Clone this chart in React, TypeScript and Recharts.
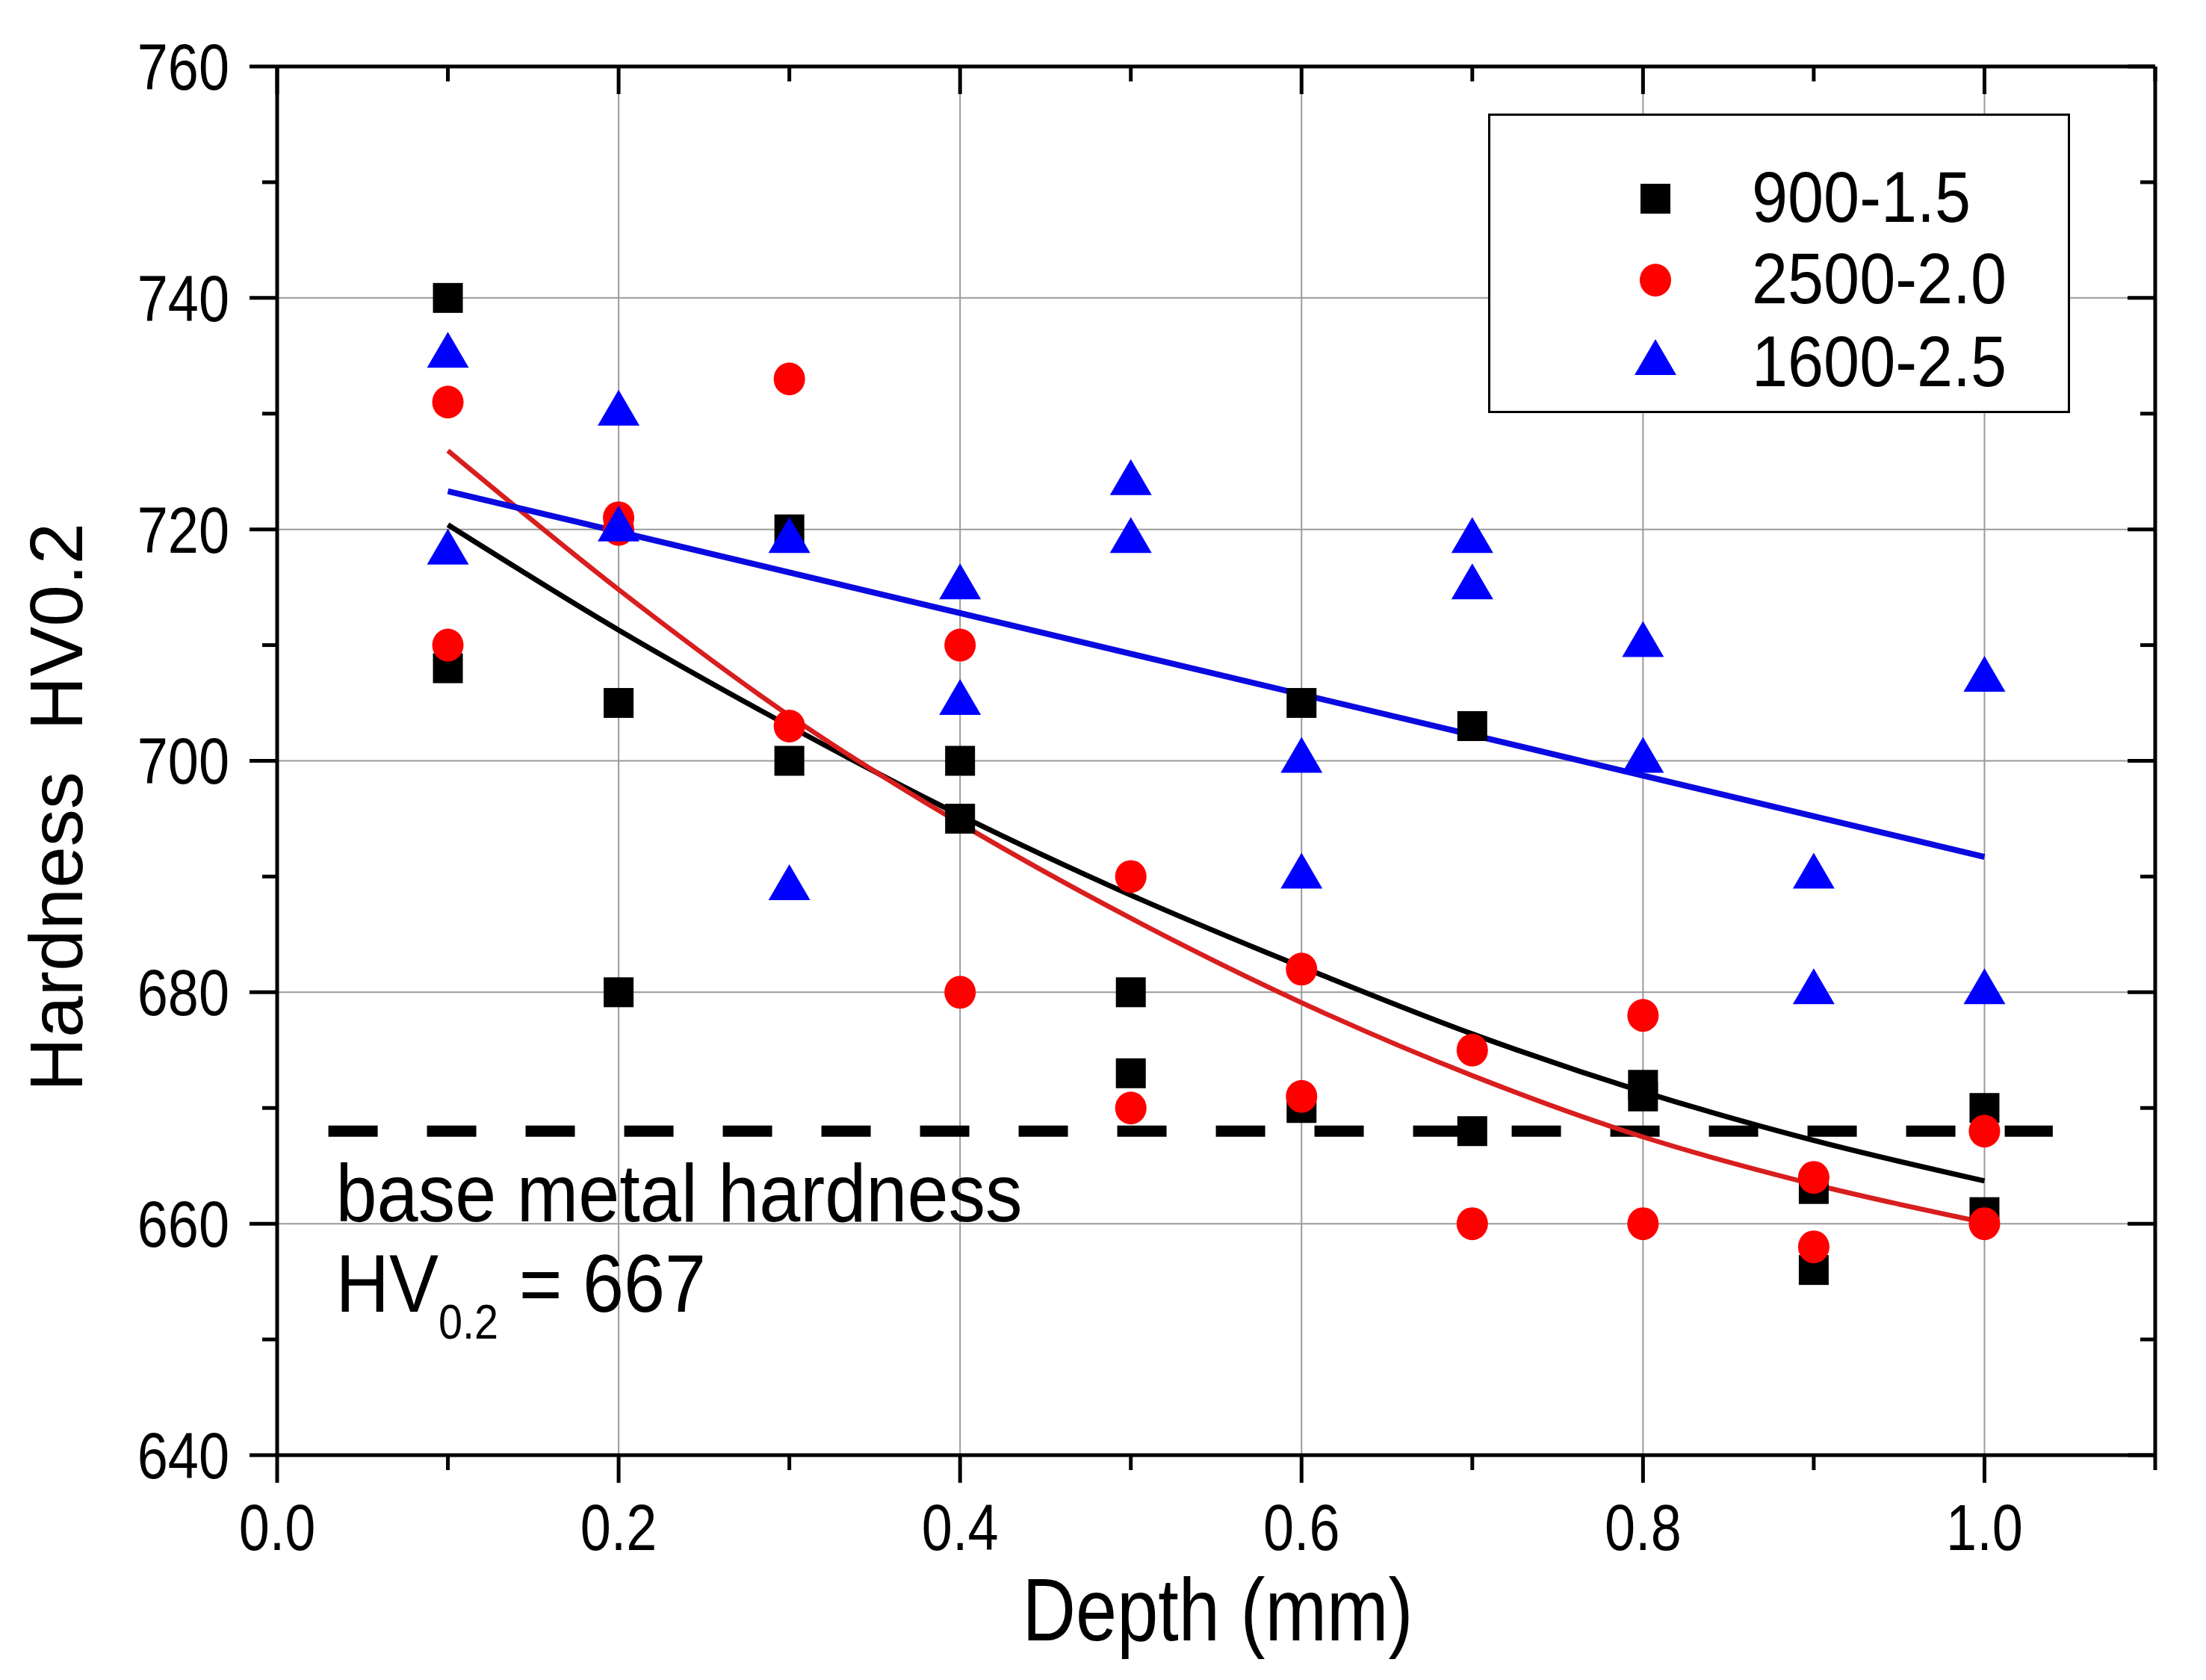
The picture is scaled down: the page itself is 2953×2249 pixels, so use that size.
import React from 'react'
import { ComposedChart, Scatter, Line, XAxis, YAxis, ReferenceLine, Legend } from 'recharts'

// depth of the indent rows (mm)
const DEPTH_MM = [0.1, 0.2, 0.3, 0.4, 0.5, 0.6, 0.7, 0.8, 0.9, 1.0]

// two readings per depth, HV0.2
const HV_900_15 = [[740, 708], [705, 680], [720, 700], [700, 695], [680, 673], [705, 670], [703, 668], [672, 671], [663, 656], [670, 661]]
const HV_2500_20 = [[731, 710], [721, 720], [733, 703], [710, 680], [690, 670], [682, 671], [675, 660], [678, 660], [664, 658], [668, 660]]
const HV_1600_25 = [[735, 718], [730, 720], [719, 689], [715, 705], [724, 719], [700, 690], [719, 715], [710, 700], [690, 680], [707, 680]]

// fitted curves at each depth
const FIT_900_15 = [720.4, 711.3, 703.0, 695.3, 688.4, 682.2, 676.4, 671.4, 667.2, 663.7]
const FIT_2500_20 = [726.8, 714.8, 703.9, 694.6, 686.4, 679.1, 672.8, 667.5, 663.4, 660.1]
const FIT_1600_25_X = [0.1, 1.0]
const FIT_1600_25 = [723.3, 691.7]

const BASE_HV = 668
const BASE_X = [0.03, 1.04]

const SERIES_NAMES = ['900-1.5', '2500-2.0', '1600-2.5']

const X_TICKS = [0, 0.1, 0.2, 0.3, 0.4, 0.5, 0.6, 0.7, 0.8, 0.9, 1.0, 1.1]
const Y_TICKS = [640, 650, 660, 670, 680, 690, 700, 710, 720, 730, 740, 750, 760]
const X_GRID = [0.2, 0.4, 0.6, 0.8, 1.0]
const Y_GRID = [660, 680, 700, 720, 740]

const FONT = '"Liberation Sans", Arial, Helvetica, sans-serif'
const AXIS_W = 5
const MAJOR = 37
const MINOR = 20
const NARROW = 0.84

const points = (rows: number[][]) =>
  rows.flatMap((pair, i) => pair.map(v => ({ x: DEPTH_MM[i], y: v })))

const curve = (xs: number[], ys: number[]) => ys.map((y, i) => ({ x: xs[i], y }))

const isMajorX = (v: number) => Math.round(v * 10) % 2 === 0
const isMajorY = (v: number) => v % 20 === 0

// condensed-looking text, as in the original figure
function NarrowText({ x, y, size, anchor, baseline, children }: any) {
  return (
    <text
      transform={`translate(${x},${y}) scale(${NARROW},1)`}
      textAnchor={anchor}
      dominantBaseline={baseline}
      fontSize={size}
      fontFamily={FONT}
      fill="#000"
    >
      {children}
    </text>
  )
}

function BottomTick({ x, y, payload }: any) {
  const major = isMajorX(payload.value)
  return (
    <g>
      <line x1={x} x2={x} y1={y} y2={y + (major ? MAJOR : MINOR)} stroke="#000" strokeWidth={AXIS_W} />
      {major && (
        <NarrowText x={x} y={y + 127} size={88} anchor="middle">
          {payload.value.toFixed(1)}
        </NarrowText>
      )}
    </g>
  )
}

function TopTick({ x, y, payload }: any) {
  const major = isMajorX(payload.value)
  return <line x1={x} x2={x} y1={y} y2={y + (major ? MAJOR : MINOR)} stroke="#000" strokeWidth={AXIS_W} />
}

function LeftTick({ x, y, payload }: any) {
  const major = isMajorY(payload.value)
  return (
    <g>
      <line x1={x} x2={x - (major ? MAJOR : MINOR)} y1={y} y2={y} stroke="#000" strokeWidth={AXIS_W} />
      {major && (
        <NarrowText x={x - 64} y={y} size={88} anchor="end" baseline="central">
          {payload.value}
        </NarrowText>
      )}
    </g>
  )
}

function RightTick({ x, y, payload }: any) {
  const major = isMajorY(payload.value)
  return <line x1={x} x2={x - (major ? MAJOR : MINOR)} y1={y} y2={y} stroke="#000" strokeWidth={AXIS_W} />
}

const square = ({ cx, cy }: any) => <rect x={cx - 20} y={cy - 20} width={40} height={40} fill="#000" />
const circle = ({ cx, cy }: any) => <ellipse cx={cx} cy={cy} rx={21} ry={22} fill="#ff0000" />
const triangle = ({ cx, cy }: any) => (
  <polygon points={`${cx},${cy - 32} ${cx + 28},${cy + 16} ${cx - 28},${cy + 16}`} fill="#0000ff" />
)

const MARKERS = [
  <rect x={-20} y={-20} width={40} height={40} fill="#000" />,
  <ellipse cx={0} cy={0} rx={21} ry={22} fill="#ff0000" />,
  <polygon points="0,-32 28,16 -28,16" fill="#0000ff" />,
]
const ROW_Y = [111, 220, 331]

function LegendBox() {
  return (
    <div
      style={{
        width: 779,
        height: 401,
        boxSizing: 'border-box',
        border: '3px solid #000',
        background: '#fff',
        position: 'relative',
        fontFamily: FONT,
      }}
    >
      {SERIES_NAMES.map((name, i) => (
        <div key={name}>
          <svg width={80} height={80} style={{ position: 'absolute', left: 221 - 40, top: ROW_Y[i] - 40 }}>
            <g transform="translate(40,40)">{MARKERS[i]}</g>
          </svg>
          <div
            style={{
              position: 'absolute',
              left: 350,
              top: ROW_Y[i] - 52,
              height: 100,
              lineHeight: '100px',
              fontSize: 96,
              color: '#000',
              whiteSpace: 'nowrap',
              transform: `scale(${0.9},1)`,
              transformOrigin: 'left center',
            }}
          >
            {name}
          </div>
        </div>
      ))}
    </div>
  )
}

function YTitle({ viewBox }: any) {
  const x = viewBox.x + 110
  const y = viewBox.y + viewBox.height / 2 + 62
  return (
    <text x={x} y={y} transform={`rotate(-90, ${x}, ${y})`} textAnchor="middle" fontSize={100} fontFamily={FONT} fill="#000" style={{ whiteSpace: 'pre' }}>
      {'Hardness  HV0.2'}
    </text>
  )
}

function XTitle({ viewBox }: any) {
  return (
    <NarrowText x={viewBox.x + viewBox.width / 2 + 2} y={viewBox.y + 248} size={118} anchor="middle">
      Depth (mm)
    </NarrowText>
  )
}

function BaseLabel({ viewBox }: any) {
  const x = viewBox.x + 10
  const y = viewBox.y
  return (
    <g fontFamily={FONT} fill="#000">
      <text transform={`translate(${x},${y + 121}) scale(0.9,1)`} fontSize={110}>base metal hardness</text>
      <text transform={`translate(${x},${y + 242}) scale(0.9,1)`} fontSize={110} style={{ whiteSpace: 'pre' }}>
        HV
        <tspan dy={36} fontSize={64}>0.2</tspan>
        <tspan dy={-36} fontSize={110}>{' = 667'}</tspan>
      </text>
    </g>
  )
}

export default function App() {
  return (
    <div style={{ position: 'absolute', left: 0, top: 0, width: 2953, height: 2249, background: '#fff' }}>
      <ComposedChart width={2953} height={2249} margin={{ top: 88, right: 67, bottom: 0, left: 0 }}>
        <XAxis
          dataKey="x"
          type="number"
          domain={[0, 1.1]}
          allowDataOverflow
          ticks={X_TICKS}
          interval={0}
          height={301}
          tickSize={0}
          tickMargin={0}
          tickLine={false}
          tick={BottomTick}
          axisLine={{ stroke: '#000', strokeWidth: AXIS_W }}
          label={(p: any) => <XTitle {...p} />}
        />
        <XAxis
          xAxisId="top"
          orientation="top"
          dataKey="x"
          type="number"
          domain={[0, 1.1]}
          allowDataOverflow
          ticks={X_TICKS}
          interval={0}
          height={1}
          tickSize={0}
          tickMargin={0}
          tickLine={false}
          tick={TopTick}
          axisLine={{ stroke: '#000', strokeWidth: AXIS_W }}
        />
        <YAxis
          dataKey="y"
          type="number"
          domain={[640, 760]}
          allowDataOverflow
          ticks={Y_TICKS}
          interval={0}
          width={371}
          tickSize={0}
          tickMargin={0}
          tickLine={false}
          tick={LeftTick}
          axisLine={{ stroke: '#000', strokeWidth: AXIS_W }}
          label={(p: any) => <YTitle {...p} />}
        />
        <YAxis
          yAxisId="right"
          orientation="right"
          dataKey="y"
          type="number"
          domain={[640, 760]}
          allowDataOverflow
          ticks={Y_TICKS}
          interval={0}
          width={1}
          tickSize={0}
          tickMargin={0}
          tickLine={false}
          tick={RightTick}
          axisLine={{ stroke: '#000', strokeWidth: AXIS_W }}
        />
        {X_GRID.map(v => (
          <ReferenceLine key={`gx${v}`} x={v} stroke="#9a9a9a" strokeWidth={2} />
        ))}
        {Y_GRID.map(v => (
          <ReferenceLine key={`gy${v}`} y={v} stroke="#9a9a9a" strokeWidth={2} />
        ))}
        <ReferenceLine
          segment={[{ x: BASE_X[0], y: BASE_HV }, { x: BASE_X[1], y: BASE_HV }]}
          stroke="#000"
          strokeWidth={15}
          strokeDasharray="66 66"
          label={(p: any) => <BaseLabel {...p} />}
        />
        <Scatter name={SERIES_NAMES[0]} data={points(HV_900_15)} shape={square} isAnimationActive={false} />
        <Scatter name={SERIES_NAMES[1]} data={points(HV_2500_20)} shape={circle} isAnimationActive={false} />
        <Scatter name={SERIES_NAMES[2]} data={points(HV_1600_25)} shape={triangle} isAnimationActive={false} />
        <Line data={curve(DEPTH_MM, FIT_900_15)} dataKey="y" type="monotone" stroke="#000" strokeWidth={7} dot={false} activeDot={false} legendType="none" isAnimationActive={false} />
        <Line data={curve(DEPTH_MM, FIT_2500_20)} dataKey="y" type="monotone" stroke="#d81e1e" strokeWidth={6.5} dot={false} activeDot={false} legendType="none" isAnimationActive={false} />
        <Line data={curve(FIT_1600_25_X, FIT_1600_25)} dataKey="y" type="linear" stroke="#0a0ae0" strokeWidth={8} dot={false} activeDot={false} legendType="none" isAnimationActive={false} />
        <Legend
          layout="vertical"
          align="center"
          verticalAlign="middle"
          content={() => <LegendBox />}
          wrapperStyle={{ position: 'absolute', left: 1992, top: 152, width: 779, height: 401, margin: 0 }}
        />
      </ComposedChart>
    </div>
  )
}
